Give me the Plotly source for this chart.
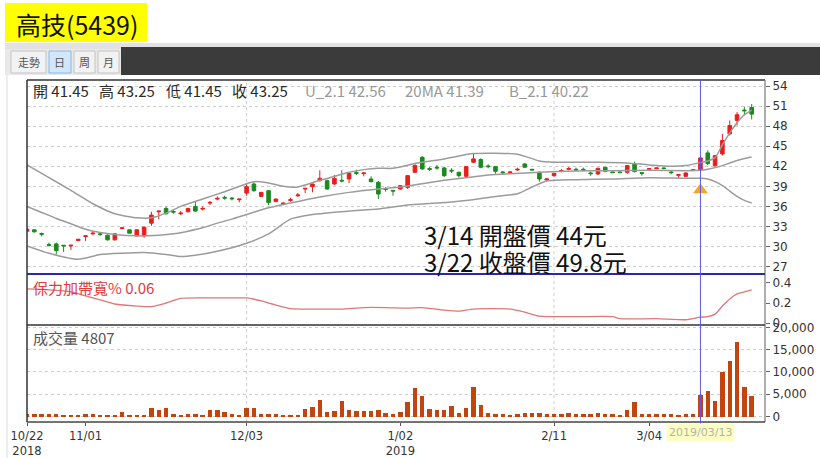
import plotly.graph_objects as go

W, H = 820, 458

# ---------------- data ----------------
idx = list(range(100))
open_ = [32.3, 32.5, 31.95, 30.3, 30.4, 30.2, 30.1, 30.9, 31.5, 31.9,
         31.9, 31.7, 31.0, 32.7, 32.5, 31.6, 31.6, 33.5, 35.2, 35.7,
         35.25, 34.9, 35.2, 36.0, 35.6, 36.5, 37.1, 37.35, 37.25, 37.0,
         38.0, 39.35, 37.5, 38.35, 36.75, 36.3, 36.9, 37.6, 38.6, 38.95,
         39.85, 39.85, 39.35, 39.9, 40.1, 41.05, 40.9, 40.1, 39.6, 38.65,
         38.4, 38.6, 38.85, 41.1, 43.35, 41.65, 41.85, 41.75, 41.4, 41.1,
         40.5, 42.6, 43.0, 42.05, 41.95, 41.15, 41.05, 41.45, 42.35, 41.55,
         41.1, 39.95, 40.6, 41.25, 41.55, 41.55, 41.55, 41.0, 40.85, 41.85,
         41.15, 41.15, 41.1, 42.35, 41.05, 41.55, 41.65, 41.75, 41.15, 40.65,
         40.5, 41.5, 41.45, 44.0, 42.1, 43.85, 46.85, 48.85, 50.4, 50.8]
close = [32.6, 32.2, 31.85, 30.2, 29.4, 30.1, 30.2, 31.1, 31.6, 32.0,
         31.8, 31.0, 31.9, 32.8, 32.0, 32.5, 32.9, 34.7, 35.3, 34.9,
         35.15, 35.0, 35.7, 35.3, 35.7, 36.6, 37.2, 37.25, 37.15, 37.1,
         38.95, 38.35, 38.1, 36.6, 37.1, 36.5, 37.0, 37.7, 38.7, 39.35,
         40.2, 38.6, 40.2, 39.8, 40.95, 40.95, 41.0, 39.7, 37.85, 38.55,
         38.3, 39.1, 40.6, 42.1, 41.6, 41.55, 41.75, 40.6, 41.3, 40.6,
         41.95, 43.1, 41.85, 41.95, 41.25, 41.05, 41.15, 41.55, 41.85, 41.45,
         40.1, 40.1, 40.95, 41.35, 41.65, 41.45, 41.45, 40.9, 41.7, 41.25,
         41.05, 41.05, 42.1, 41.2, 40.95, 41.65, 41.75, 41.65, 41.05, 40.75,
         41.0, 41.4, 43.25, 42.4, 43.6, 45.85, 48.1, 49.7, 50.3, 49.8]
high = [32.9, 32.6, 32.1, 30.6, 30.6, 30.2, 30.2, 31.1, 31.6, 32.3,
        32.1, 31.8, 32.0, 32.8, 32.5, 32.6, 33.0, 35.2, 35.3, 36.0,
        35.5, 35.3, 35.8, 36.7, 36.0, 36.8, 37.5, 37.6, 37.4, 37.1,
        39.5, 39.6, 38.1, 38.4, 37.2, 36.6, 37.3, 38.0, 38.7, 39.4,
        41.4, 40.0, 40.7, 41.4, 41.0, 41.5, 41.0, 40.5, 39.8, 38.9,
        38.4, 39.2, 40.7, 42.3, 43.5, 41.9, 42.2, 41.9, 41.7, 41.2,
        42.0, 43.9, 43.2, 42.3, 42.0, 41.3, 41.2, 41.8, 42.5, 41.6,
        41.2, 40.2, 41.0, 41.6, 41.9, 41.8, 41.8, 41.2, 41.8, 41.9,
        41.2, 41.2, 42.2, 42.7, 41.05, 41.7, 41.8, 41.8, 41.4, 40.75,
        41.1, 41.6, 43.25, 44.4, 43.7, 46.85, 48.85, 50.1, 50.9, 51.3]
low = [32.2, 32.1, 31.5, 30.0, 28.8, 29.2, 29.5, 30.9, 30.8, 31.7,
       31.6, 30.9, 30.9, 32.7, 32.0, 31.5, 31.3, 33.1, 34.1, 34.8,
       34.9, 34.7, 35.1, 35.2, 35.4, 36.2, 36.9, 37.0, 36.9, 36.6,
       37.6, 38.2, 37.5, 36.2, 36.6, 36.2, 36.7, 37.4, 38.0, 38.1,
       39.7, 38.5, 39.2, 39.6, 39.5, 40.7, 40.5, 39.6, 37.1, 38.2,
       37.6, 38.5, 38.6, 41.0, 41.5, 41.3, 41.5, 40.4, 41.0, 40.3,
       40.4, 42.5, 41.7, 41.7, 40.9, 40.8, 41.0, 41.3, 41.8, 41.4,
       39.7, 39.9, 40.4, 41.1, 41.4, 41.3, 41.3, 40.6, 40.7, 41.1,
       41.0, 41.0, 40.85, 41.1, 40.6, 41.5, 41.6, 41.6, 40.8, 40.2,
       40.4, 41.3, 41.45, 42.2, 41.85, 43.6, 46.6, 48.1, 49.6, 49.0]
volume = [450, 450, 450, 600, 600, 300, 300, 300, 450, 450,
          150, 220, 300, 900, 300, 300, 220, 2000, 1500, 2000,
          450, 220, 600, 600, 300, 1350, 1500, 900, 600, 220,
          2000, 2000, 600, 450, 450, 250, 150, 220, 1650, 2100,
          3600, 1060, 1200, 3500, 1500, 1200, 1200, 1200, 1500, 760,
          450, 1060, 3300, 6500, 4700, 1650, 1360, 1500, 2270, 760,
          1800, 6700, 2580, 760, 600, 600, 300, 600, 760, 760,
          700, 460, 460, 610, 840, 460, 460, 610, 760, 610,
          610, 150, 1530, 3360, 610, 460, 460, 460, 460, 300,
          460, 460, 4807, 5700, 3500, 10000, 12500, 16700, 6700, 4500]

# Bollinger bands (at these bars)
upper_idx = [0, 3, 6, 9, 12, 15, 17, 19, 21, 24, 27, 30, 31, 33, 35, 37, 40, 42, 44, 46,
             48, 50, 53, 57, 61, 67, 70, 72, 78, 82, 85, 88, 90, 92, 93, 94, 95, 96, 97, 98, 99]
upper_val = [42.2, 40.3, 38.4, 36.4, 34.9, 34.3, 34.3, 35.0, 36.0, 37.1, 38.2, 39.4, 39.7, 39.5, 39.0, 38.9, 39.9, 40.5, 41.1, 41.5,
             41.7, 41.7, 42.4, 43.1, 43.9, 43.8, 42.8, 42.6, 42.6, 42.5, 42.2, 42.0, 42.1, 42.56, 42.8, 43.3, 45.2, 47.0, 48.5, 49.7, 50.4]
mid_idx = [0, 2, 4, 6, 8, 10, 12, 15, 18, 20, 22, 24, 26, 28, 30, 33, 36, 40, 44, 48,
           51, 54, 57, 60, 63, 66, 70, 75, 80, 85, 90, 92, 93, 94, 95, 96, 97, 98, 99]
mid_val = [36.0, 35.1, 34.2, 33.4, 32.6, 32.1, 31.8, 31.6, 31.7, 31.9, 32.3, 32.8, 33.5, 34.1, 34.8, 35.8, 36.5, 37.4, 38.1, 38.6,
           38.9, 39.4, 39.9, 40.3, 40.7, 40.9, 41.1, 41.3, 41.35, 41.4, 41.35, 41.39, 41.55, 41.8, 42.1, 42.5, 42.85, 43.15, 43.4]
lower_idx = [0, 3, 7, 10, 13, 16, 19, 21, 23, 26, 30, 33, 36, 39, 44, 48, 52, 56, 60, 64,
             67, 69, 71, 75, 80, 85, 90, 92, 93, 94, 95, 96, 97, 98, 99]
lower_val = [30.1, 29.0, 28.1, 28.8, 29.0, 29.1, 28.8, 28.5, 28.7, 29.3, 30.5, 31.9, 34.1, 34.8, 35.3, 35.6, 36.2, 36.5, 36.9, 37.5,
             37.9, 38.9, 39.8, 40.0, 40.1, 40.3, 40.2, 40.22, 40.1, 39.7, 39.1, 38.3, 37.5, 36.9, 36.5]

# Bollinger bandwidth %
bw_idx = [0, 3, 6, 8, 10, 12, 15, 17, 19, 21, 24, 28, 30, 32, 34, 36, 40, 43, 46, 49,
          52, 54, 57, 59, 61, 66, 68, 70, 75, 80, 81, 86, 90, 92, 93, 94, 95, 96, 97, 98, 99]
bw_val = [0.34, 0.33, 0.31, 0.27, 0.23, 0.19, 0.17, 0.165, 0.20, 0.245, 0.25, 0.25, 0.25, 0.22, 0.18, 0.145, 0.14, 0.14, 0.155, 0.155,
          0.15, 0.155, 0.13, 0.12, 0.14, 0.14, 0.11, 0.07, 0.065, 0.065, 0.045, 0.045, 0.035, 0.06, 0.065, 0.09, 0.17, 0.24, 0.29, 0.31, 0.33]

signal_idx = [92]
signal_price = [38.45]
cursor_idx = 92

tick_idx = [0, 8, 30, 51, 72, 85]
tick_text = ["10/22<br>2018", "11/01", "12/03", "1/02<br>2019", "2/11", "3/04"]
grid_idx = [30, 72]

price_ticks = [27, 30, 33, 36, 39, 42, 45, 48, 51, 54]
bw_ticks = [0, 0.2, 0.4]
bw_ticktext = ["0", "0.2", "0.4"]
vol_ticks = [0, 5000, 10000, 15000, 20000]

# ---------------- styling ----------------
RED = "#ea1d1d"
GREEN = "#1a8a1e"
BAND = "#9b9b9b"
VOLC = "#c2450f"
CJK = "Noto Sans CJK TC"
NUM = "DejaVu Sans"


def px(x):
    return x / W


def py(y):
    return 1 - y / H


X0, X1 = 27, 765
Y_TOP, Y_SEP1, Y_SEP2, Y_BOT = 80, 274, 325, 422

fig = go.Figure()

fig.add_trace(go.Candlestick(
    x=idx, open=open_, high=high, low=low, close=close,
    increasing=dict(line=dict(color=RED, width=1), fillcolor=RED),
    decreasing=dict(line=dict(color=GREEN, width=1), fillcolor=GREEN),
    whiskerwidth=0, xaxis="x", yaxis="y", hoverinfo="skip"))

for bi, bv in ((upper_idx, upper_val), (mid_idx, mid_val), (lower_idx, lower_val)):
    fig.add_trace(go.Scatter(x=bi, y=bv, mode="lines", line=dict(color=BAND, width=1.5, shape="spline", smoothing=0.6),
                             xaxis="x", yaxis="y", hoverinfo="skip"))

fig.add_trace(go.Scatter(x=signal_idx, y=signal_price, mode="markers",
                         marker=dict(symbol="triangle-up", size=13, color="#f5a623"),
                         xaxis="x", yaxis="y", hoverinfo="skip"))

fig.add_trace(go.Scatter(x=bw_idx, y=bw_val, mode="lines",
                         line=dict(color="#e07676", width=1.3, shape="spline", smoothing=0.6),
                         xaxis="x", yaxis="y2", hoverinfo="skip"))

fig.add_trace(go.Bar(x=idx, y=volume, marker=dict(color=VOLC, line=dict(width=0)), width=0.6,
                     xaxis="x", yaxis="y3", hoverinfo="skip"))

axis_font = dict(family=NUM, size=12, color="#333333")

fig.update_layout(
    width=W, height=H, margin=dict(l=0, r=0, t=0, b=0, pad=0, autoexpand=False),
    paper_bgcolor="white", plot_bgcolor="white", showlegend=False,
    bargap=0,
    xaxis=dict(domain=[px(X0), px(X1)], range=[0, (X1 - X0) / 7.32], anchor="y3", automargin=False,
               tickmode="array", tickvals=tick_idx, ticktext=tick_text,
               ticks="outside", ticklen=3, tickcolor="#555", tickfont=dict(family=NUM, size=11.5, color="#333333"),
               showgrid=False, zeroline=False, showline=False, rangeslider=dict(visible=False)),
    yaxis=dict(domain=[py(Y_SEP1), py(Y_TOP)], range=[54 - (Y_SEP1 - 86) / 6.69, 54 + 6 / 6.69],
               side="right", anchor="x", automargin=False, tickmode="array", tickvals=price_ticks,
               ticks="outside", ticklen=4, tickcolor="#666", tickfont=axis_font,
               showgrid=True, gridcolor="#cccccc", griddash="dot", zeroline=False),
    yaxis2=dict(domain=[py(Y_SEP2), py(Y_SEP1)], range=[-0.017, 0.486],
                side="right", anchor="x", automargin=False, tickmode="array", tickvals=bw_ticks, ticktext=bw_ticktext,
                ticks="outside", ticklen=4, tickcolor="#666", tickfont=axis_font,
                showgrid=False, zeroline=False),
    yaxis3=dict(domain=[py(Y_BOT), py(Y_SEP2)], range=[-1233, 20516],
                side="right", anchor="x", automargin=False, tickmode="array", tickvals=vol_ticks, tickformat=",d",
                ticks="outside", ticklen=4, tickcolor="#666", tickfont=axis_font,
                showgrid=True, gridcolor="#cccccc", griddash="dot", zeroline=False),
)

shapes = []
# toolbar
shapes.append(dict(type="rect", xref="paper", yref="paper", x0=px(5), x1=1, y0=py(49), y1=py(43),
                   fillcolor="#e2e2e2", line=dict(width=0), layer="below"))
shapes.append(dict(type="rect", xref="paper", yref="paper", x0=px(5), x1=px(121), y0=py(75), y1=py(49),
                   fillcolor="#e9e9e9", line=dict(width=0), layer="below"))
shapes.append(dict(type="rect", xref="paper", yref="paper", x0=px(121), x1=1, y0=py(75), y1=py(47),
                   fillcolor="#3b3b3b", line=dict(width=0), layer="below"))
for (bx0, bx1, fill, edge) in [(11, 46, "#f2f2f2", "#c4c4c4"), (49, 71, "#d3e7fa", "#86b6e8"),
                               (74, 95, "#f2f2f2", "#c4c4c4"), (98, 119, "#f2f2f2", "#c4c4c4")]:
    shapes.append(dict(type="rect", xref="paper", yref="paper", x0=px(bx0), x1=px(bx1), y0=py(73), y1=py(51),
                       fillcolor=fill, line=dict(color=edge, width=1), layer="below"))
# title box
shapes.append(dict(type="rect", xref="paper", yref="paper", x0=px(5), x1=px(147), y0=py(42), y1=py(3),
                   fillcolor="#ffff00", line=dict(width=0), layer="below"))
# faint page edge
shapes.append(dict(type="line", xref="paper", yref="paper", x0=px(7), x1=px(7), y0=py(458), y1=py(75),
                   line=dict(color="#dddddd", width=1)))
# vertical dashed grid
for g in grid_idx:
    shapes.append(dict(type="line", xref="x", yref="paper", x0=g, x1=g, y0=py(Y_BOT), y1=py(Y_TOP),
                       line=dict(color="#cccccc", width=1, dash="dot"), layer="below"))
# frame
shapes.append(dict(type="line", xref="paper", yref="paper", x0=px(X0), x1=px(X0), y0=py(Y_BOT), y1=py(Y_TOP),
                   line=dict(color="#333333", width=1.5)))
shapes.append(dict(type="line", xref="paper", yref="paper", x0=px(X0), x1=px(X1), y0=py(Y_TOP), y1=py(Y_TOP),
                   line=dict(color="#333333", width=1.5)))
shapes.append(dict(type="line", xref="paper", yref="paper", x0=px(X1), x1=px(X1), y0=py(Y_BOT), y1=py(Y_TOP),
                   line=dict(color="#777777", width=1.2)))
shapes.append(dict(type="line", xref="paper", yref="paper", x0=px(X0), x1=px(X1), y0=py(Y_BOT), y1=py(Y_BOT),
                   line=dict(color="#444444", width=1.5)))
shapes.append(dict(type="line", xref="paper", yref="paper", x0=px(X0), x1=px(X1), y0=py(Y_SEP1), y1=py(Y_SEP1),
                   line=dict(color="#2a2aa8", width=2)))
shapes.append(dict(type="line", xref="paper", yref="paper", x0=px(X0), x1=px(X1), y0=py(Y_SEP2), y1=py(Y_SEP2),
                   line=dict(color="#333333", width=1.5)))
# cursor line
shapes.append(dict(type="line", xref="x", yref="paper", x0=cursor_idx, x1=cursor_idx, y0=py(424), y1=py(Y_TOP),
                   line=dict(color="#5a5af0", width=1)))
fig.update_layout(shapes=shapes)

ann = []


def text(x, y, s, size, color, family=CJK, xanchor="left", **kw):
    ann.append(dict(xref="paper", yref="paper", x=px(x), y=py(y), text=s, showarrow=False,
                    xanchor=xanchor, yanchor="middle", font=dict(family=family, size=size, color=color), **kw))


text(14, 24, "高技(5439)", 25, "#111111")
text(28.5, 62, "走勢", 11, "#555555", xanchor="center")
text(60, 62, "日", 11, "#555555", xanchor="center")
text(84.5, 62, "周", 11, "#555555", xanchor="center")
text(108.5, 62, "月", 11, "#555555", xanchor="center")

text(31, 91, "開 41.45", 15, "#2a2a2a")
text(97, 91, "高 43.25", 15, "#2a2a2a")
text(164, 91, "低 41.45", 15, "#2a2a2a")
text(230, 91, "收 43.25", 15, "#2a2a2a")
text(303, 91, "U_2.1 42.56", 15, "#999999")
text(403, 91, "20MA 41.39", 15, "#999999")
text(507, 91, "B_2.1 40.22", 15, "#999999")

text(422, 234, "3/14 開盤價 44元", 24, "#111111")
text(422, 261, "3/22 收盤價 49.8元", 24, "#111111")

text(31, 287, "保力加帶寬% 0.06", 15, "#e03c3c")
text(31, 337, "成交量 4807", 15, "#555555")

ann.append(dict(xref="x", yref="paper", x=cursor_idx, y=py(432), text="2019/03/13", showarrow=False,
                xanchor="center", yanchor="middle", bgcolor="#fdfdc6", borderpad=2,
                font=dict(family=NUM, size=11, color="#b4b4a0")))
fig.update_layout(annotations=ann)

fig.write_html("out.html", config={"displayModeBar": False},
               post_script="document.body.style.margin='0';document.body.style.overflow='hidden';")
